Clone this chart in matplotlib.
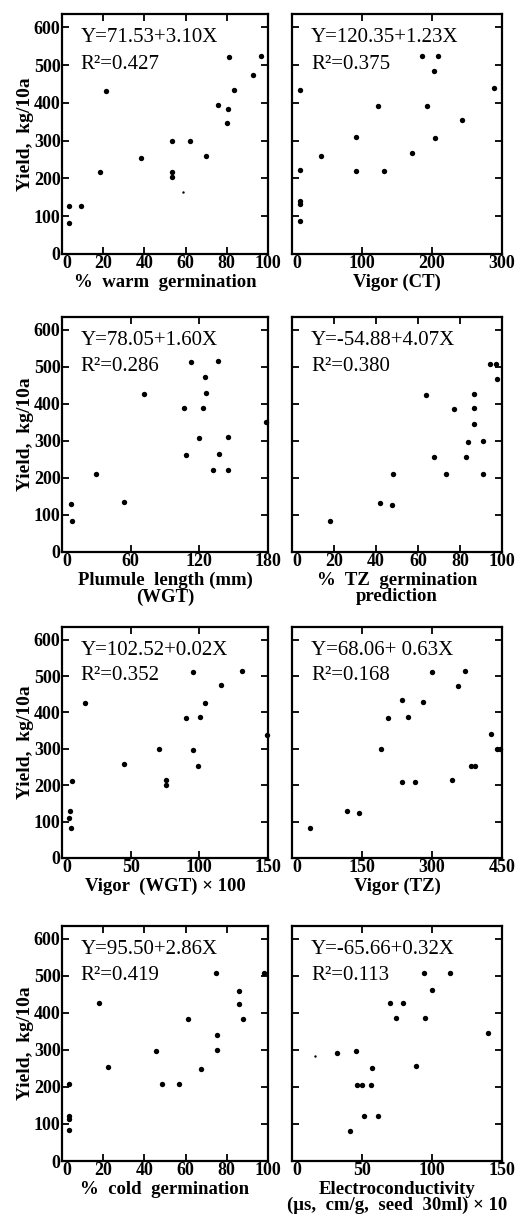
import matplotlib
matplotlib.use("Agg")
import matplotlib.pyplot as plt

# yield vs. seed quality tests, 8 panels (4 rows x 2 cols)

# row 1
warm_x = [3.5, 3.6, 9.1, 18.3, 21.3, 38.2, 53.3, 53.2, 53.2, 62.3, 69.8, 75.9, 80.5, 80.2, 81.2, 83.7, 92.7, 96.4]
warm_y = [83, 126, 126, 216, 430, 254, 300, 216, 205, 300, 260, 393, 383, 347, 520, 434, 473, 524]
ct_x = [12, 11, 12, 12, 12, 42, 92, 91, 132, 123, 172, 185, 209, 203, 193, 204, 243, 288]
ct_y = [433, 223, 141, 132, 88, 260, 309, 219, 219, 392, 268, 523, 523, 483, 392, 308, 354, 440]

# row 2
plum_x = [7.8, 8.4, 30, 54.5, 71.6, 107, 108.4, 112.7, 120, 123, 125, 126, 132, 136, 137, 145, 145, 178]
plum_y = [130, 83, 211, 134, 427, 390, 263, 513, 308, 390, 474, 430, 222, 515, 264, 312, 222, 350]
tzp_x = [18.2, 42, 47.4, 48, 64, 67.5, 73.5, 77, 82.8, 83.9, 86.7, 86.7, 86.9, 90.8, 90.8, 94.5, 97, 97.5]
tzp_y = [85, 133, 126, 211, 423, 257, 211, 387, 257, 297, 427, 390, 346, 300, 210, 508, 508, 468]

# row 3
wgt_x = [5, 5.5, 6.9, 7.3, 16.4, 45.3, 70.8, 75.9, 75.9, 90, 95.5, 95.5, 99, 100.7, 104.3, 115.8, 131, 149]
wgt_y = [109, 129, 82, 211, 425, 259, 299, 214, 200, 386, 511, 298, 252, 387, 425, 476, 514, 339]
tz_x = [39.5, 117, 143.7, 190, 206, 236, 249, 236, 263.7, 280, 300, 342, 356, 370, 384, 393, 427, 439, 445]
tz_y = [82, 129, 123, 300, 386, 433, 388, 210, 210, 430, 511, 214, 472, 513, 252, 252, 340, 300, 300]

# row 4
cold_x = [3.6, 3.6, 3.6, 3.6, 17.8, 22.2, 45.6, 48.5, 57, 61.3, 67.5, 74.8, 75.1, 75.1, 86, 86, 88, 98]
cold_y = [209, 122, 113, 84, 426, 254, 298, 209, 209, 384, 248, 509, 341, 300, 460, 425, 385, 508]
ec_x = [31.9, 45.7, 57.2, 46.2, 49.8, 56.7, 51.2, 61.1, 41.2, 69.7, 79.2, 74.2, 94.8, 88.4, 94, 112.6, 100.3, 140.1]
ec_y = [293, 296, 251, 205, 205, 205, 122, 122, 80, 426, 426, 386, 386, 256, 508, 508, 462, 346]

# tiny specks in the print
speck_x = [58.6, None, None, None, None, None, None, 16.3]
speck_y = [165, None, None, None, None, None, None, 283]

equations = ["Y=71.53+3.10X", "Y=120.35+1.23X",
             "Y=78.05+1.60X", "Y=-54.88+4.07X",
             "Y=102.52+0.02X", "Y=68.06+ 0.63X",
             "Y=95.50+2.86X", "Y=-65.66+0.32X"]
r2 = ["0.427", "0.375", "0.286", "0.380", "0.352", "0.168", "0.419", "0.113"]

xlabels = ["%  warm  germination", "Vigor (CT)",
           "Plumule  length (mm)\n(WGT)", "%  TZ  germination\nprediction",
           "Vigor  (WGT) \u00d7 100", "Vigor (TZ)",
           "%  cold  germination", "Electroconductivity\n(\u03bcs,  cm/g,  seed  30ml) \u00d7 10"]
xticks = [[0, 20, 40, 60, 80, 100], [0, 100, 200, 300],
          [0, 60, 120, 180], [0, 20, 40, 60, 80, 100],
          [0, 50, 100, 150], [0, 150, 300, 450],
          [0, 20, 40, 60, 80, 100], [0, 50, 100, 150]]
xs = [warm_x, ct_x, plum_x, tzp_x, wgt_x, tz_x, cold_x, ec_x]
ys = [warm_y, ct_y, plum_y, tzp_y, wgt_y, tz_y, cold_y, ec_y]
yticks = [0, 100, 200, 300, 400, 500, 600]

W, H = 519, 1226
fig = plt.figure(figsize=(W / 100, H / 100), dpi=100)
fig.patch.set_facecolor("white")

serif = ["Liberation Serif", "DejaVu Serif"]
cols = [(62, 268), (292, 502)]
rows = [(14, 254), (317, 552), (627, 858), (926, 1161)]

for i in range(8):
    r, c = i // 2, i % 2
    left, right = cols[c]
    top, bottom = rows[r]
    ax = fig.add_axes([left / W, 1 - bottom / H, (right - left) / W, (bottom - top) / H])
    ax.scatter(xs[i], ys[i], s=15, color="black", linewidths=0, clip_on=False, zorder=3)
    if speck_x[i] is not None:
        ax.scatter([speck_x[i]], [speck_y[i]], s=3, color="black", linewidths=0)
    ax.set_xlim(0, xticks[i][-1])
    ax.set_ylim(0, 635)
    ax.set_xticks(xticks[i])
    ax.set_yticks(yticks)
    ax.tick_params(direction="in", length=5, width=1.3, top=True, right=True, pad=1)
    for sp in ax.spines.values():
        sp.set_linewidth(1.6)
    labs = ax.set_xticklabels([str(t) for t in xticks[i]], family=serif, fontsize=13, fontweight="bold")
    labs[0].set_ha("left")  # keep the x "0" clear of the y "0"
    if c == 0:
        ax.set_yticklabels([str(t) for t in yticks], family=serif, fontsize=13, fontweight="bold")
        ax.set_ylabel("Yield,  kg/10a", family=serif, fontsize=14, fontweight="bold", labelpad=0)
    else:
        ax.set_yticklabels([])
    ax.set_xlabel(xlabels[i], family=serif, fontsize=13.5, fontweight="bold", labelpad=1, linespacing=0.95)
    ax.text(0.09, 0.90, equations[i], transform=ax.transAxes, family=serif, fontsize=15, va="center")
    ax.text(0.09, 0.79, "R\u00b2=" + r2[i], transform=ax.transAxes, family=serif, fontsize=15, va="center")

fig.savefig("out.png", dpi=100)
